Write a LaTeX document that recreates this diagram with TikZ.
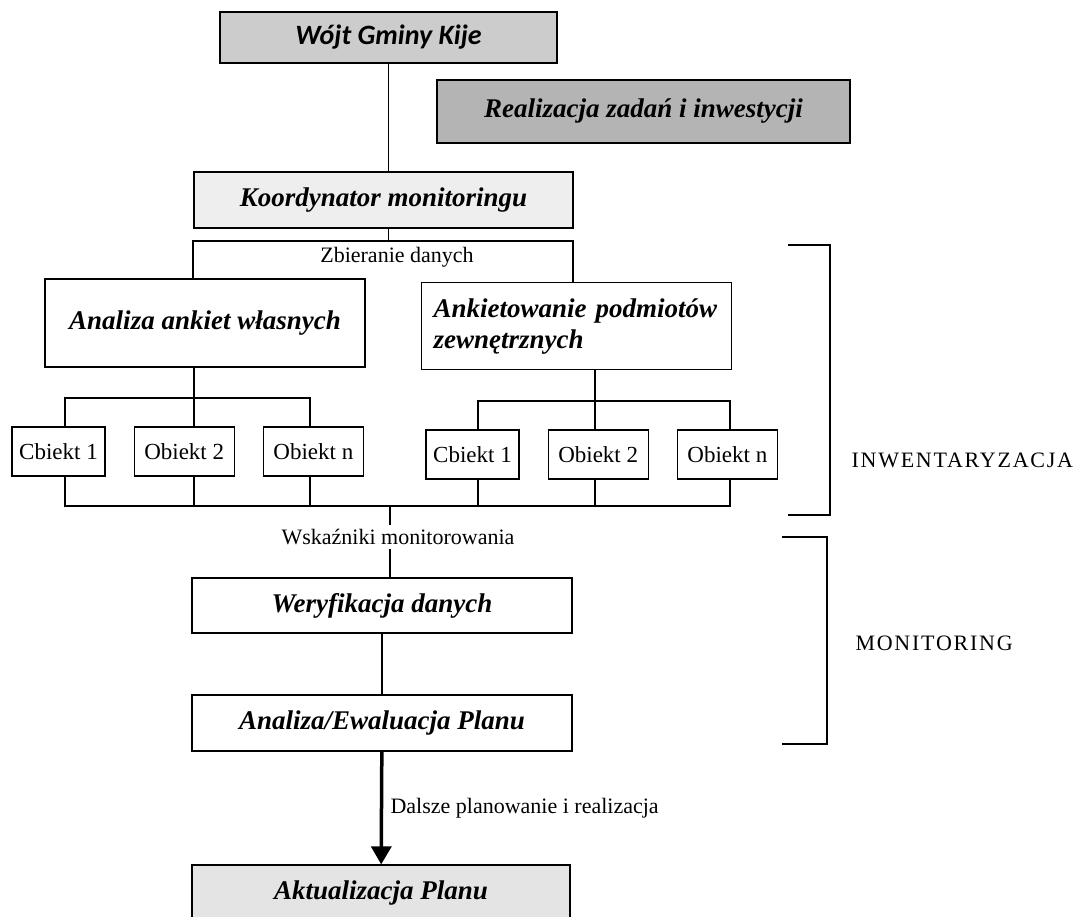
\documentclass[tikz,border=0pt]{standalone}
\usepackage{fontspec}
\setmainfont{Liberation Serif}
\newfontfamily\calibfont{Carlito}
\newfontfamily\spacedfont[LetterSpace=8]{Liberation Serif}
\usetikzlibrary{positioning,arrows.meta}
\definecolor{stoneGrey}{HTML}{CCCCCC}
\definecolor{mistGrey}{HTML}{EEEEEE}
\definecolor{ashGrey}{HTML}{B4B4B4}
\definecolor{paleGrey}{HTML}{E4E4E4}
\tikzset{
  chiefbox/.style={rectangle, draw, line width=1.4pt, fill=stoneGrey, inner sep=0pt,
                   font=\calibfont\bfseries\itshape\fontsize{28}{32}\selectfont},
  taskbox/.style={rectangle, draw, line width=1.2pt, inner sep=0pt, align=center,
                  font=\bfseries\itshape\fontsize{27}{31}\selectfont},
  itembox/.style={rectangle, draw, line width=1.2pt, minimum height=49pt, inner sep=0pt,
                  font=\fontsize{23}{27}\selectfont},
  notelabel/.style={font=\fontsize{22}{26}\selectfont},
  phaselabel/.style={font=\spacedfont\fontsize{22}{26}\selectfont},
  link/.style={line width=1.2pt},
  mainflow/.style={-{Triangle[length=18pt,width=20pt]}, line width=3.5pt},
  bracket/.style={line width=1.4pt}
}
\begin{document}
\begin{tikzpicture}[x=1pt, y=-1pt, node distance=28pt]
\useasboundingbox (0,0) rectangle (1090,917);

\node[chiefbox, minimum width=337pt, minimum height=51pt] (wojt) at (388.5,37.5) {Wójt Gminy Kije};
\node[taskbox, fill=ashGrey, minimum width=413pt, minimum height=63pt] (realiz) at (643.5,111.5) {Realizacja zadań i inwestycji};
\node[taskbox, fill=mistGrey, minimum width=379pt, minimum height=56pt] (koord) at (383.5,200) {Koordynator monitoringu};

\node[taskbox, minimum width=320pt, minimum height=88pt] (analiza) at (205,323) {Analiza ankiet własnych};
\node[taskbox, text width=286pt, align=left, inner xsep=12pt, minimum height=87pt, anchor=north west] (ankiet) at (421,282) {Ankietowanie podmiotów\\zewnętrznych};

\node[itembox, minimum width=93pt] (obL1) at (58.5,451.5) {Cbiekt 1};
\node[itembox, minimum width=100pt, right=of obL1] (obL2) {Obiekt 2};
\node[itembox, minimum width=100pt, right=of obL2] (obLn) {Obiekt n};
\node[itembox, minimum width=93pt] (obR1) at (472.5,454.5) {Cbiekt 1};
\node[itembox, minimum width=100pt, right=of obR1] (obR2) {Obiekt 2};
\node[itembox, minimum width=100pt, right=of obR2] (obRn) {Obiekt n};

\node[taskbox, minimum width=380pt, minimum height=55pt] (weryf) at (382,605.5) {Weryfikacja danych};
\node[taskbox, minimum width=380pt, minimum height=56pt] (ewal) at (382,723) {Analiza/Ewaluacja Planu};
\node[taskbox, fill=paleGrey, minimum width=378pt, minimum height=56pt] (aktual) at (381,893) {Aktualizacja Planu};

\coordinate (zbL) at (193,241);
\coordinate (zbR) at (573,241);
\coordinate (brL) at (194,398);
\coordinate (brL1) at (65,398);
\coordinate (brLn) at (310,398);
\coordinate (brR) at (595,401);
\coordinate (brR1) at (478,401);
\coordinate (brRn) at (730,401);
\coordinate (colL) at (65,506);
\coordinate (colR) at (730,506);
\coordinate (col) at (390,506);

\draw[link] (wojt.south) -- (wojt.south |- koord.north);
\draw[link] (wojt.south |- koord.south) -- (wojt.south |- zbL);
\draw[link] (zbL |- analiza.north) -- (zbL) -- (zbR) -- (zbR |- ankiet.north);
\node[notelabel] (zbieranie) at (397,257) {Zbieranie danych};

\draw[link] (brL |- analiza.south) -- (brL |- obL2.north);
\draw[link] (brL1 |- obL1.north) -- (brL1) -- (brLn) -- (brLn |- obLn.north);
\draw[link] (brR |- ankiet.south) -- (brR |- obR2.north);
\draw[link] (brR1 |- obR1.north) -- (brR1) -- (brRn) -- (brRn |- obRn.north);

\draw[link] (brL1 |- obL1.south) -- (colL) -- (colR) -- (brRn |- obRn.south);
\draw[link] (brL |- obL2.south) -- (brL |- colL);
\draw[link] (brLn |- obLn.south) -- (brLn |- colL);
\draw[link] (brR1 |- obR1.south) -- (brR1 |- colL);
\draw[link] (brR |- obR2.south) -- (brR |- colL);

\draw[link] (col) -- (col |- weryf.north);
\node[notelabel, fill=white, inner sep=4pt] (wskazniki) at (398,537) {Wskaźniki monitorowania};

\draw[link] (weryf) -- (ewal);
\draw[mainflow] (ewal) -- (aktual) node[notelabel, midway, right=4pt] (dalsze) {Dalsze planowanie i realizacja};

\draw[bracket] (788,245) -- (830,245) -- (830,515) -- (788,515);
\node[phaselabel, anchor=west] (inwent) at (848,460) {INWENTARYZACJA};
\draw[bracket] (782,537) -- (827,537) -- (827,744) -- (782,744);
\node[phaselabel, anchor=west] (monit) at (852,643) {MONITORING};
\end{tikzpicture}
\end{document}
